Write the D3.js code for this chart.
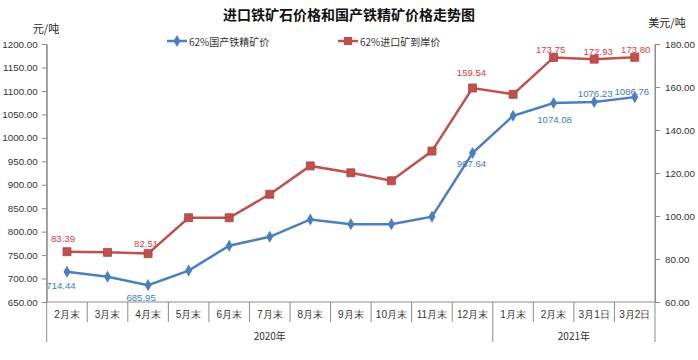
<!DOCTYPE html>
<html><head><meta charset="utf-8">
<script src="https://cdn.jsdelivr.net/npm/d3@7/dist/d3.min.js"></script>
<style>
html,body{margin:0;padding:0;background:#fff;}
svg{display:block;font-family:"Noto Sans CJK SC","Noto Sans",sans-serif;}
</style></head>
<body><svg id="chart" width="698" height="360"></svg>
<script>
const categories = ["2月末","3月末","4月末","5月末","6月末","7月末","8月末","9月末","10月末","11月末","12月末","1月末","2月末","3月1日","3月2日"];
const yearLabels = ["2020年","2021年"];
const yearSpans = [11, 4];
const domestic = [714.44, 704, 685.95, 717, 770, 789, 826, 816, 816, 832, 967.64, 1047, 1074.08, 1076.23, 1086.76];
const imported = [83.39, 83.1, 82.51, 99.2, 99.2, 110.1, 123.3, 120.1, 116.4, 130.2, 159.54, 156.6, 173.75, 172.93, 173.80];
const leftTicks = [650,700,750,800,850,900,950,1000,1050,1100,1150,1200];
const rightTicks = [60,80,100,120,140,160,180];
const labeledIdx = [0, 2, 10, 12, 13, 14];
const seriesNames = ["62%国产铁精矿价","62%进口矿到岸价"];

const svg = d3.select("#chart");
const L = 46.7, R = 655, T = 44, B = 302;
const blue = "#4A7EBF", red = "#C0504D";
const blueTxt = "#3D7CC6", redTxt = "#E0383C";
const axisCol = "#8C8C8C";
const numFont = "'Liberation Sans','Noto Sans',sans-serif";

const x = d3.scaleBand().domain(d3.range(categories.length)).range([L, R]);
const yL = d3.scaleLinear().domain([650, 1200]).range([B, T]);
const yR = d3.scaleLinear().domain([60, 180]).range([B, T]);
const cx = i => x(i) + x.bandwidth() / 2;

// title
svg.append("text").attr("x", 349).attr("y", 14).attr("text-anchor", "middle")
  .attr("dominant-baseline", "central").attr("font-size", 14).attr("font-weight", "bold")
  .attr("fill", "#111").text("进口铁矿石价格和国产铁精矿价格走势图");
svg.append("text").attr("x", 46).attr("y", 27.5).attr("text-anchor", "middle")
  .attr("dominant-baseline", "central").attr("font-size", 11).attr("fill", "#222").text("元/吨");
svg.append("text").attr("x", 667).attr("y", 22).attr("text-anchor", "middle")
  .attr("dominant-baseline", "central").attr("font-size", 11).attr("fill", "#222").text("美元/吨");

// left axis
const gL = svg.append("g").attr("transform", `translate(${L},0)`)
  .call(d3.axisLeft(yL).tickValues(leftTicks).tickFormat(d3.format(".2f")).tickSize(5).tickSizeOuter(0).tickPadding(4));
// right axis
const gR = svg.append("g").attr("transform", `translate(${R},0)`)
  .call(d3.axisRight(yR).tickValues(rightTicks).tickFormat(d3.format(".2f")).tickSize(5).tickSizeOuter(0).tickPadding(5));
[gL, gR].forEach(g => {
  g.select(".domain").attr("stroke", axisCol);
  g.selectAll(".tick line").attr("stroke", axisCol);
  g.selectAll(".tick text").attr("font-size", 9.8).attr("fill", "#333")
    .attr("font-family", numFont);
});

// bottom axis
const gB = svg.append("g").attr("transform", `translate(0,${B})`)
  .call(d3.axisBottom(x).tickFormat(i => categories[i]).tickSize(0).tickPadding(9));
gB.select(".domain").remove();
gB.selectAll(".tick text").attr("font-size", 10).attr("fill", "#333");
svg.append("line").attr("x1", L).attr("x2", R).attr("y1", B).attr("y2", B).attr("stroke", axisCol);

// category separators
const bounds = d3.range(categories.length + 1);
const groupBounds = [0];
yearSpans.forEach((s, k) => groupBounds.push(groupBounds[k] + s));
const edge = j => j < categories.length ? x(j) : R;
svg.append("g").selectAll("line").data(bounds).join("line")
  .attr("x1", j => edge(j)).attr("x2", j => edge(j))
  .attr("y1", B).attr("y2", j => groupBounds.includes(j) ? 342 : 322)
  .attr("stroke", axisCol);
svg.append("line").attr("x1", L).attr("x2", L).attr("y1", T).attr("y2", B).attr("stroke", axisCol);
svg.append("line").attr("x1", R).attr("x2", R).attr("y1", T).attr("y2", B).attr("stroke", axisCol);

// year labels
svg.append("g").selectAll("text").data(yearLabels).join("text")
  .attr("x", (d, k) => (edge(groupBounds[k]) + edge(groupBounds[k + 1])) / 2)
  .attr("y", 335).attr("text-anchor", "middle").attr("dominant-baseline", "central")
  .attr("font-size", 10).attr("fill", "#333").text(d => d);

// data labels (drawn below lines)
const blueOff = {0: [-6, 14], 2: [-7, 12], 10: [-1, 11], 12: [1, 16], 13: [1, -9], 14: [-3, -6]};
const redOff = {0: [-4, -13], 2: [-2, -10], 10: [-1, -15], 12: [-3, -8], 13: [4, -8], 14: [1, -8]};
svg.append("g").selectAll("text").data(labeledIdx).join("text")
  .attr("x", i => cx(i) + blueOff[i][0]).attr("y", i => yL(domestic[i]) + blueOff[i][1])
  .attr("text-anchor", "middle").attr("dominant-baseline", "central")
  .attr("font-size", 9.6).attr("fill", blueTxt).attr("font-family", numFont)
  .text(i => domestic[i].toFixed(2));
svg.append("g").selectAll("text").data(labeledIdx).join("text")
  .attr("x", i => cx(i) + redOff[i][0]).attr("y", i => yR(imported[i]) + redOff[i][1])
  .attr("text-anchor", "middle").attr("dominant-baseline", "central")
  .attr("font-size", 9.6).attr("fill", redTxt).attr("font-family", numFont)
  .text(i => imported[i].toFixed(2));

// lines
const lineL = d3.line().x((d, i) => cx(i)).y(d => yL(d));
const lineR = d3.line().x((d, i) => cx(i)).y(d => yR(d));
svg.append("path").datum(imported).attr("d", lineR).attr("fill", "none").attr("stroke", red).attr("stroke-width", 2.5);
svg.append("path").datum(domestic).attr("d", lineL).attr("fill", "none").attr("stroke", blue).attr("stroke-width", 2.5);
const sq = d3.symbol().type(d3.symbolSquare).size(64);
const dm = d3.symbol().type(d3.symbolDiamond).size(42);
svg.append("g").selectAll("path").data(imported).join("path")
  .attr("d", sq).attr("transform", (d, i) => `translate(${cx(i)},${yR(d)})`)
  .attr("fill", red).attr("stroke", "#A94442").attr("stroke-width", 0.8);
svg.append("g").selectAll("path").data(domestic).join("path")
  .attr("d", dm).attr("transform", (d, i) => `translate(${cx(i)},${yL(d)})`)
  .attr("fill", blue);

// legend
const legX = [167, 338];
const legCol = [blue, red];
seriesNames.forEach((name, k) => {
  const g = svg.append("g").attr("transform", `translate(${legX[k]},41)`);
  g.append("line").attr("x1", 0).attr("x2", 20).attr("stroke", legCol[k]).attr("stroke-width", 2.5);
  g.append("path").attr("d", k === 0 ? dm : sq).attr("transform", "translate(10,0)").attr("fill", legCol[k]);
  g.append("text").attr("x", 22).attr("dominant-baseline", "central").attr("font-size", 10)
    .attr("fill", "#333").text(name);
});
</script></body></html>
